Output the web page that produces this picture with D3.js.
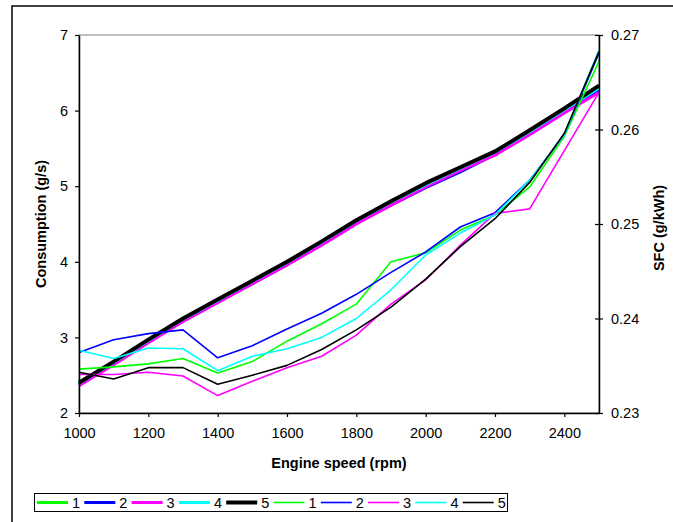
<!DOCTYPE html>
<html>
<head>
<meta charset="utf-8">
<script src="https://cdn.jsdelivr.net/npm/d3@7"></script>
<style>
body { margin: 0; background: #fff; }
svg { font-family: "Liberation Sans", Arial, sans-serif; }
</style>
</head>
<body>
<div id="chart"></div>
<script>
'use strict';

// engine speed (rpm)
const speeds = [1000, 1100, 1200, 1300, 1400, 1500, 1600, 1700, 1800, 1900, 2000, 2100, 2200, 2300, 2400, 2500];

// consumption (g/s), left axis, thick lines
const cons1 = [2.38, 2.66, 2.95, 3.23, 3.48, 3.73, 3.98, 4.25, 4.53, 4.78, 5.02, 5.23, 5.44, 5.71, 6.00, 6.28];
const cons2 = [2.37, 2.65, 2.94, 3.22, 3.47, 3.71, 3.96, 4.23, 4.51, 4.75, 4.98, 5.19, 5.42, 5.70, 5.99, 6.27];
const cons3 = [2.36, 2.64, 2.93, 3.21, 3.46, 3.71, 3.96, 4.22, 4.50, 4.75, 4.99, 5.21, 5.41, 5.68, 5.97, 6.24];
const cons4 = [2.39, 2.67, 2.96, 3.24, 3.49, 3.74, 3.99, 4.26, 4.54, 4.79, 5.02, 5.24, 5.45, 5.72, 6.01, 6.30];
const cons5 = [2.40, 2.68, 2.97, 3.25, 3.50, 3.75, 4.00, 4.27, 4.55, 4.80, 5.04, 5.25, 5.46, 5.74, 6.03, 6.33];

// SFC (g/kWh), right axis, thin lines
const sfc1 = [0.23464, 0.23488, 0.2352, 0.23576, 0.23424, 0.23544, 0.2376, 0.23944, 0.24152, 0.246, 0.24696, 0.24936, 0.25096, 0.25392, 0.25928, 0.2672];
const sfc2 = [0.2364, 0.23776, 0.2384, 0.2388, 0.23584, 0.23712, 0.23888, 0.24056, 0.24256, 0.24488, 0.24704, 0.24968, 0.2512, 0.25464, 0.25944, 0.26808];
const sfc3 = [0.23408, 0.23408, 0.23432, 0.23392, 0.23184, 0.23336, 0.2348, 0.236, 0.23824, 0.24152, 0.24408, 0.24776, 0.25112, 0.2516, 0.25776, 0.26392];
const sfc4 = [0.23664, 0.23576, 0.23688, 0.2368, 0.23448, 0.236, 0.2368, 0.238, 0.24, 0.24304, 0.24672, 0.24904, 0.25096, 0.25464, 0.25944, 0.2684];
const sfc5 = [0.23432, 0.2336, 0.2348, 0.2348, 0.23304, 0.234, 0.23504, 0.23672, 0.2388, 0.2412, 0.24416, 0.2476, 0.25056, 0.2544, 0.2596, 0.26824];

const xTicks = [1000, 1200, 1400, 1600, 1800, 2000, 2200, 2400];
const yLeftTicks = [2, 3, 4, 5, 6, 7];
const yRightTicks = [0.23, 0.24, 0.25, 0.26, 0.27];
const seriesNames = ["1", "2", "3", "4", "5"];
const colors = ["#00ff00", "#0000ff", "#ff00ff", "#00ffff", "#000000"];

const consData = [cons1, cons2, cons3, cons4, cons5];
const sfcData = [sfc1, sfc2, sfc3, sfc4, sfc5];

const width = 673, height = 522;
const margin = { top: 35, right: 74, bottom: 109, left: 79 };
const plotW = width - margin.left - margin.right;
const plotH = height - margin.top - margin.bottom;

const svg = d3.select("#chart")
	.append("svg")
		.attr("width", width)
		.attr("height", height);

// outer chart frame (runs off the right and bottom edges)
svg.append("rect")
	.attr("x", 12)
	.attr("y", 6)
	.attr("width", 700)
	.attr("height", 560)
	.attr("fill", "none")
	.attr("stroke", "#000")
	.attr("stroke-width", 1.5);

const bounds = svg.append("g")
	.attr("transform", `translate(${margin.left},${margin.top})`);

const xScale = d3.scaleLinear()
	.domain([1000, 2500])
	.range([0, plotW]);

const yLeft = d3.scaleLinear()
	.domain([2, 7])
	.range([plotH, 0]);

const yRight = d3.scaleLinear()
	.domain([0.23, 0.27])
	.range([plotH, 0]);

// plot area border (grey)
bounds.append("rect")
	.attr("x", 0)
	.attr("y", 0)
	.attr("width", plotW)
	.attr("height", plotH)
	.attr("fill", "none")
	.attr("stroke", "#808080")
	.attr("stroke-width", 1);

// thick lines: consumption
const consLine = d3.line()
	.x((d, i) => xScale(speeds[i]))
	.y(d => yLeft(d));

bounds.append("g")
	.selectAll("path")
	.data(consData)
	.join("path")
		.attr("d", consLine)
		.attr("fill", "none")
		.attr("stroke", (d, i) => colors[i])
		.attr("stroke-width", (d, i) => i == 4 ? 4 : 3)
		.attr("stroke-linejoin", "round");

// thin lines: SFC
const sfcLine = d3.line()
	.x((d, i) => xScale(speeds[i]))
	.y(d => yRight(d));

bounds.append("g")
	.selectAll("path")
	.data(sfcData)
	.join("path")
		.attr("d", sfcLine)
		.attr("fill", "none")
		.attr("stroke", (d, i) => colors[i])
		.attr("stroke-width", 1.6)
		.attr("stroke-linejoin", "round");

// axes
const xAxis = bounds.append("g")
	.attr("transform", `translate(0,${plotH})`)
	.call(d3.axisBottom(xScale).tickValues(xTicks).tickSize(4).tickSizeOuter(0).tickFormat(d3.format("d")));

const yAxisL = bounds.append("g")
	.call(d3.axisLeft(yLeft).tickValues(yLeftTicks).tickSize(4).tickSizeOuter(0).tickFormat(d3.format("d")));

const yAxisR = bounds.append("g")
	.attr("transform", `translate(${plotW},0)`)
	.call(d3.axisRight(yRight).tickValues(yRightTicks).tickSize(4).tickSizeOuter(0).tickFormat(d3.format(".2f")));

// right ticks cross the axis
yAxisR.selectAll(".tick line").attr("x1", -4);

[xAxis, yAxisL, yAxisR].forEach(a => {
	a.select(".domain").attr("stroke", "#000").attr("stroke-width", 1.5);
	a.selectAll(".tick line").attr("stroke", "#000").attr("stroke-width", 1.2);
	a.selectAll(".tick text")
		.attr("fill", "#000")
		.style("font-size", "14.5px")
		.style("font-family", "'Liberation Sans', Arial, sans-serif");
});
xAxis.selectAll(".tick text").attr("dy", "0.71em").attr("y", 15);
yAxisL.selectAll(".tick text").attr("x", -11);
yAxisR.selectAll(".tick text").attr("x", 12);

// axis titles
svg.append("text")
	.attr("x", margin.left + plotW / 2)
	.attr("y", 468)
	.attr("text-anchor", "middle")
	.attr("font-weight", "bold")
	.attr("font-size", "14.5px")
	.text("Engine speed (rpm)");

svg.append("text")
	.attr("transform", `translate(46,${margin.top + plotH / 2}) rotate(-90)`)
	.attr("text-anchor", "middle")
	.attr("font-weight", "bold")
	.attr("font-size", "14.5px")
	.text("Consumption (g/s)");

svg.append("text")
	.attr("transform", `translate(664,${margin.top + plotH / 2 + 4}) rotate(-90)`)
	.attr("text-anchor", "middle")
	.attr("font-weight", "bold")
	.attr("font-size", "14.5px")
	.text("SFC (g/kWh)");

// legend
const legend = svg.append("g");
legend.append("rect")
	.attr("x", 34.5)
	.attr("y", 493.5)
	.attr("width", 473)
	.attr("height", 18)
	.attr("fill", "#fff")
	.attr("stroke", "#000")
	.attr("stroke-width", 1);

const legendItems = [];
seriesNames.forEach((n, i) => legendItems.push({ name: n, color: colors[i], w: i == 4 ? 4 : 3 }));
seriesNames.forEach((n, i) => legendItems.push({ name: n, color: colors[i], w: 1.6 }));

const item = legend.selectAll("g.item")
	.data(legendItems)
	.join("g")
		.attr("class", "item")
		.attr("transform", (d, i) => `translate(${37 + i * 47.3},502.5)`);

item.append("line")
	.attr("x1", 0)
	.attr("x2", 31)
	.attr("stroke", d => d.color)
	.attr("stroke-width", d => d.w);

item.append("text")
	.attr("x", 35)
	.attr("y", 5.5)
	.attr("font-size", "14.5px")
	.text(d => d.name);
</script>
</body>
</html>
